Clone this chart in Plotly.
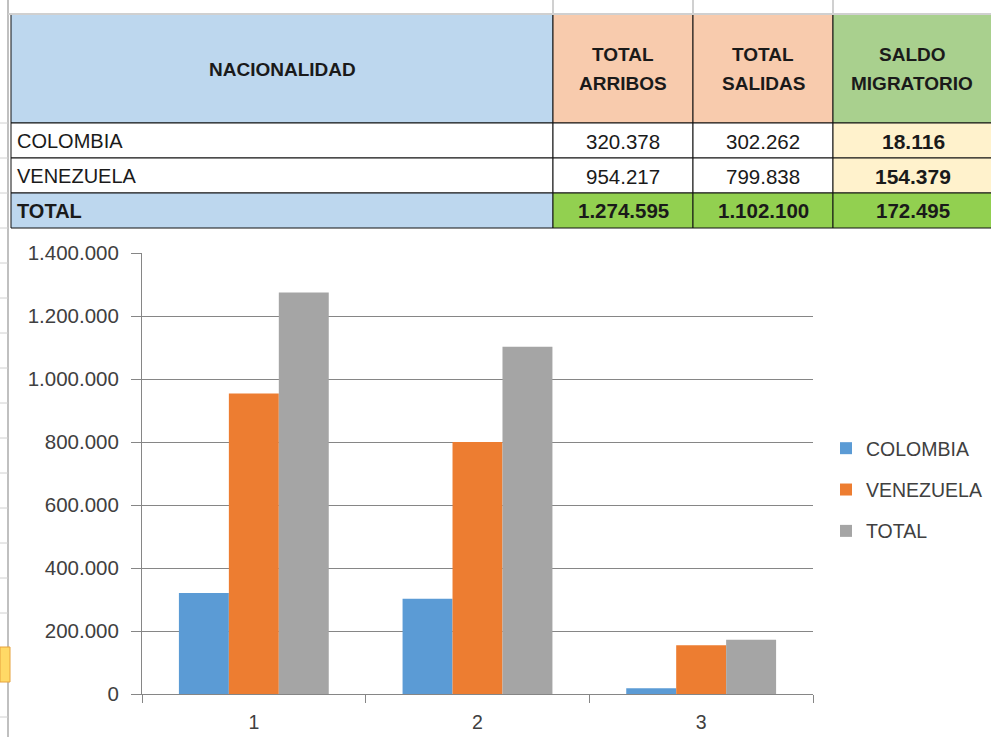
import plotly.graph_objects as go

# ---- data ----
nacionalidad = ["COLOMBIA", "VENEZUELA", "TOTAL"]
total_arribos = [320378, 954217, 1274595]
total_salidas = [302262, 799838, 1102100]
saldo_migratorio = [18116, 154379, 172495]
header_labels = ["NACIONALIDAD", "TOTAL<br>ARRIBOS", "TOTAL<br>SALIDAS", "SALDO<br>MIGRATORIO"]
chart_categories = ["1", "2", "3"]
series_colors = ["#5B9BD5", "#ED7D31", "#A5A5A5"]
y_ticks = [0, 200000, 400000, 600000, 800000, 1000000, 1200000, 1400000]

W, H = 991, 737
FONT = "Liberation Sans, Arial, sans-serif"


def fmt(v):
    return f"{v:,}".replace(",", ".")


def px_x(x):
    return x / W


def px_y(y):
    return 1 - y / H


fig = go.Figure()

# ---- chart ----
rows = list(zip(total_arribos, total_salidas, saldo_migratorio))
for name, vals, color in zip(nacionalidad, rows, series_colors):
    fig.add_trace(go.Bar(
        x=chart_categories, y=list(vals), name=name,
        marker=dict(color=color, line=dict(width=0)),
        legendgroup=name,
    ))

axis_gray = "#868686"
label_gray = "#404040"
fig.update_layout(
    width=W, height=H,
    margin=dict(l=0, r=0, t=0, b=0, pad=0),
    paper_bgcolor="white", plot_bgcolor="white",
    separators=",.",
    barmode="group", bargap=0.33, bargroupgap=0,
    font=dict(family=FONT, size=19, color=label_gray),
    legend=dict(
        x=px_x(826), y=px_y(429), xanchor="left", yanchor="top",
        font=dict(family=FONT, size=19.5, color=label_gray),
        traceorder="grouped", tracegroupgap=13,
        bgcolor="rgba(0,0,0,0)",
    ),
    showlegend=True,
)
fig.update_xaxes(
    domain=[px_x(142), px_x(813)],
    type="category",
    automargin=False,
    showline=True, linecolor=axis_gray, linewidth=1,
    ticks="outside", tickson="boundaries", ticklen=8, tickcolor=axis_gray,
    showgrid=False,
    tickfont=dict(family=FONT, size=19.5, color=label_gray),
    ticklabelstandoff=11,
)
fig.update_yaxes(
    domain=[px_y(694), px_y(253)],
    range=[0, 1400000],
    tickvals=y_ticks,
    tickformat=",d",
    automargin=False,
    showline=True, linecolor=axis_gray, linewidth=1,
    ticks="outside", ticklen=10, tickcolor=axis_gray,
    showgrid=True, gridcolor=axis_gray, gridwidth=1,
    zeroline=False,
    tickfont=dict(family=FONT, size=20.5, color=label_gray),
    ticklabelstandoff=8,
)

# ---- table (cells as shapes + text annotations built from the data arrays) ----
col_edges = [11, 553, 693, 833, 1000]
row_edges = [14, 123, 158, 193, 228]
header_fill = ["#BDD7EE", "#F8CBAD", "#F8CBAD", "#A9D08E"]
body_fill = [
    ["#FFFFFF", "#FFFFFF", "#FFFFFF", "#FFF2CC"],
    ["#FFFFFF", "#FFFFFF", "#FFFFFF", "#FFF2CC"],
    ["#BDD7EE", "#92D050", "#92D050", "#92D050"],
]
text_col = "#1a1a1a"
shapes = []
annotations = []


def cell_rect(c, r, fill):
    shapes.append(dict(type="rect", xref="paper", yref="paper", layer="below",
                       x0=px_x(col_edges[c]), x1=px_x(col_edges[c + 1]),
                       y0=px_y(row_edges[r + 1]), y1=px_y(row_edges[r]),
                       fillcolor=fill, line=dict(color="#111111", width=1)))


def text(x, y, s, size, bold=False, align="center"):
    annotations.append(dict(xref="paper", yref="paper", x=px_x(x), y=px_y(y),
                            text=f"<b>{s}</b>" if bold else s, showarrow=False,
                            xanchor=align, yanchor="middle",
                            font=dict(family=FONT, size=size, color=text_col)))


# header
for c, lab in enumerate(header_labels):
    cell_rect(c, 0, header_fill[c])
    xc = (col_edges[c] + min(col_edges[c + 1], 991)) / 2
    lines = lab.split("<br>")
    mid = (row_edges[0] + row_edges[1]) / 2 + 0.5
    for i, ln in enumerate(lines):
        yc = mid + (i - (len(lines) - 1) / 2) * 28
        text(xc, yc, ln, 19, bold=True)

# body
body_values = list(zip(nacionalidad, total_arribos, total_salidas, saldo_migratorio))
for r, (nm, a, s, d) in enumerate(body_values):
    yc = (row_edges[r + 1] + row_edges[r + 2]) / 2 + 0.5
    is_total = nm == "TOTAL"
    for c in range(4):
        cell_rect(c, r + 1, body_fill[r][c])
    text(col_edges[0] + 4, yc, nm, 20, bold=is_total, align="left")
    text((col_edges[1] + col_edges[2]) / 2, yc, fmt(a), 20.5, bold=is_total)
    text((col_edges[2] + col_edges[3]) / 2, yc, fmt(s), 20.5, bold=is_total)
    text((col_edges[3] + 991) / 2 + 1, yc, fmt(d), 21 if not is_total else 20.5, bold=True)

# ---- spreadsheet decorations ----
grid = "#D0D0D0"
shapes.append(dict(type="line", xref="paper", yref="paper", x0=px_x(8), x1=px_x(8), y0=0, y1=1,
                   line=dict(color="#C0C0C0", width=2)))
shapes.append(dict(type="line", xref="paper", yref="paper", x0=px_x(8), x1=1, y0=px_y(14), y1=px_y(14),
                   line=dict(color=grid, width=2)))
for xv in [553, 693, 833]:
    shapes.append(dict(type="line", xref="paper", yref="paper", x0=px_x(xv), x1=px_x(xv),
                       y0=px_y(0), y1=px_y(14), line=dict(color=grid, width=2)))
for yv in [123, 158, 193, 228, 263, 298, 333, 368, 403, 438, 473, 508, 543, 578, 613, 717]:
    shapes.append(dict(type="line", xref="paper", yref="paper", x0=0, x1=px_x(8),
                       y0=px_y(yv), y1=px_y(yv), line=dict(color=grid, width=1)))
shapes.append(dict(type="rect", xref="paper", yref="paper", x0=0, x1=px_x(10),
                   y0=px_y(682), y1=px_y(647), fillcolor="#FFD966",
                   line=dict(color="#E6A23C", width=1)))

fig.update_layout(shapes=shapes, annotations=annotations)

fig.write_html("out.html", config={"displayModeBar": False},
               post_script="document.body.style.margin='0px';")
